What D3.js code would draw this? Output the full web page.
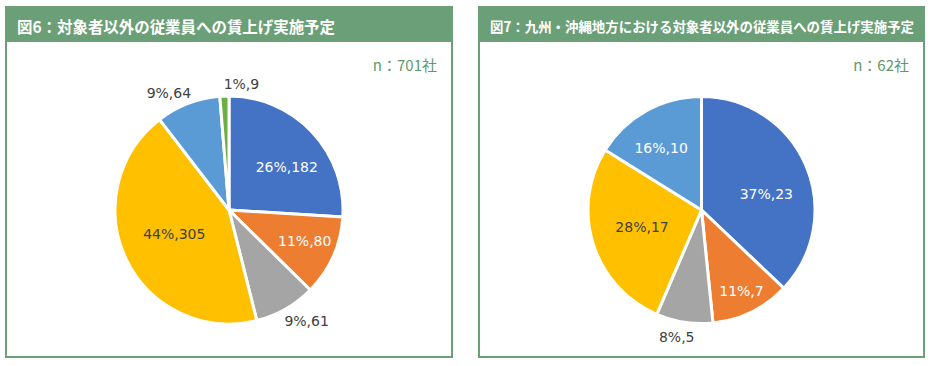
<!DOCTYPE html>
<html><head><meta charset="utf-8">
<script src="https://cdn.jsdelivr.net/npm/d3@7"></script>
<style>body{margin:0;background:#fff}svg{display:block}</style>
</head><body>
<svg id="c" width="932" height="366"></svg>
<script>
// ---- data ----
const categories = ["区分1","区分2","区分3","区分4","区分5","区分6"];
const colors = ["#4472C4","#ED7D31","#A5A5A5","#FFC000","#5B9BD5","#70AD47"];
const values6 = [182, 80, 61, 305, 64, 9];
const pct6 = ["26%","11%","9%","44%","9%","1%"];
const values7 = [23, 7, 5, 17, 10];
const pct7 = ["37%","11%","8%","28%","16%"];
const title6 = "図6：対象者以外の従業員への賃上げ実施予定";
const title7 = "図7：九州・沖縄地方における対象者以外の従業員への賃上げ実施予定";
const n6 = "n：701社";
const n7 = "n：62社";

// ---- layout tweaks (label nudges in px, not data) ----
const nudge6 = [[3,9],[7,0],[7,0],[13,-9],[-9,2],[18,2]];
const nudge7 = [[-4,14],[7,14],[-4,1],[12,-5],[-4,3]];

const svg = d3.select("#c");
const green = "#6B9F78";
const font = "'Noto Sans CJK JP','Noto Sans',sans-serif";
const lblFont = "'DejaVu Sans','Noto Sans',sans-serif";

function panel(x0, x1, title, titleLen, titleSize, nText, values, pcts, nudge, cx, cy, r) {
  const g = svg.append("g");
  g.append("rect").attr("x", x0).attr("y", 7).attr("width", x1 - x0).attr("height", 350)
    .attr("fill", "#fff").attr("stroke", green).attr("stroke-width", 2);
  g.append("rect").attr("x", x0 - 1).attr("y", 6).attr("width", x1 - x0 + 2).attr("height", 36)
    .attr("fill", green);
  g.append("text").attr("x", x0 + 11).attr("y", 26).attr("dominant-baseline", "central")
    .attr("fill", "#fff").attr("font-family", font).attr("font-weight", "bold")
    .attr("font-size", titleSize).attr("textLength", titleLen).attr("lengthAdjust", "spacingAndGlyphs")
    .text(title);
  g.append("text").attr("x", x1 - 15).attr("y", 64).attr("dominant-baseline", "central")
    .attr("text-anchor", "end").attr("fill", "#5E9A6C").attr("font-family", font)
    .attr("font-size", 15).text(nText);

  const data = values.map((v, i) => ({cat: categories[i], v, p: pcts[i], color: colors[i], i}));
  const total = d3.sum(values);
  const pie = d3.pie().value(d => d.v).sort(null);
  const arcs = pie(data);
  const arc = d3.arc().innerRadius(0).outerRadius(r);
  const pg = g.append("g").attr("transform", `translate(${cx},${cy})`);
  pg.selectAll("path").data(arcs).join("path")
    .attr("d", arc).attr("fill", d => d.data.color)
    .attr("stroke", "#fff").attr("stroke-width", 3).attr("stroke-linejoin", "round");
  pg.selectAll("text").data(arcs).join("text")
    .attr("text-anchor", "middle").attr("dominant-baseline", "central")
    .attr("font-family", lblFont).attr("font-size", 14)
    .text(d => `${d.data.p},${d.data.v}`)
    .each(function(d) {
      const inside = d.data.v / total >= 0.1;
      const sel = d3.select(this);
      const mid = (d.startAngle + d.endAngle) / 2;
      const s = Math.sin(mid), c = Math.cos(mid);
      let x, y;
      if (inside) {
        x = s * r * 0.66; y = -c * r * 0.66;
      } else {
        const bb = this.getBBox();
        x = s * (r + 6) + s * bb.width / 2;
        y = -c * (r + 6) - c * bb.height / 2;
      }
      const nd = nudge[d.data.i];
      sel.attr("x", x + nd[0]).attr("y", y + nd[1])
        .attr("fill", inside && d.data.color !== "#FFC000" ? "#fff" : "#404040");
    });
}

panel(6, 452, title6, 318, 16, n6, values6, pct6, nudge6, 229, 210, 114);
panel(479, 924, title7, 424, 14, n7, values7, pct7, nudge7, 701.5, 210, 113.5);
</script>
</body></html>
